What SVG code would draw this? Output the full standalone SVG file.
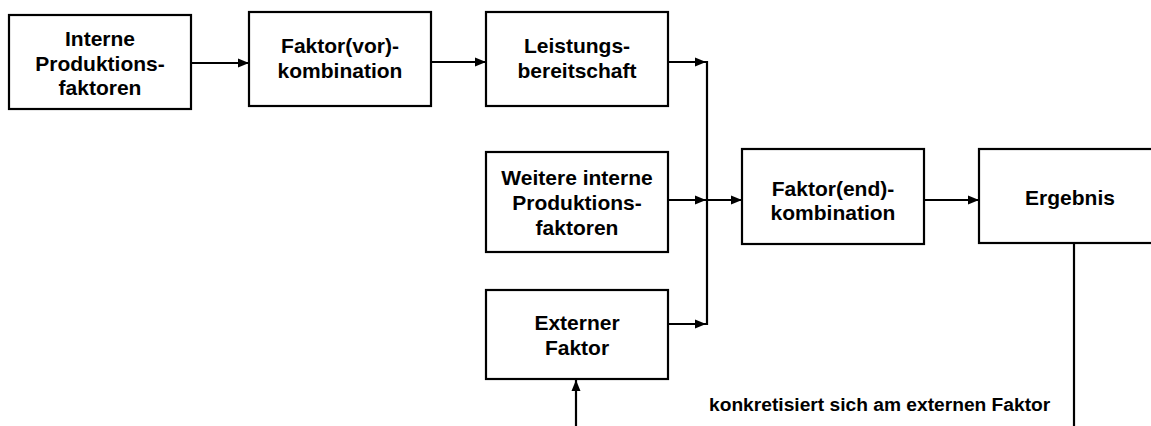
<svg xmlns="http://www.w3.org/2000/svg" width="1151" height="426" viewBox="0 0 1151 426">
  <style>
    .box { fill: #ffffff; stroke: #000000; stroke-width: 2.2; }
    .lbl { font-family: "Liberation Sans", Arial, sans-serif; font-weight: bold; font-size: 21px; fill: #000000; text-anchor: middle; }
    .note { font-family: "Liberation Sans", Arial, sans-serif; font-weight: bold; font-size: 19.2px; fill: #000000; }
    .wire { fill: none; stroke: #000000; stroke-width: 2.2; }
  </style>
  <defs>
    <marker id="arrow" markerUnits="userSpaceOnUse" markerWidth="12" markerHeight="10" refX="11" refY="5" orient="auto">
      <path d="M0,0.5 L11,5 L0,9.5 Z" fill="#000000"/>
    </marker>
  </defs>
  <rect width="1151" height="426" fill="#ffffff"/>

  <g id="connectors">
    <line class="wire" x1="191" y1="63" x2="249" y2="63" marker-end="url(#arrow)"/>
    <line class="wire" x1="431" y1="62" x2="486" y2="62" marker-end="url(#arrow)"/>
    <line class="wire" x1="668" y1="62" x2="706" y2="62" marker-end="url(#arrow)"/>
    <line class="wire" x1="668" y1="200" x2="706" y2="200" marker-end="url(#arrow)"/>
    <line class="wire" x1="668" y1="324" x2="706" y2="324" marker-end="url(#arrow)"/>
    <line class="wire" x1="707" y1="61" x2="707" y2="325"/>
    <line class="wire" x1="707" y1="200" x2="742" y2="200" marker-end="url(#arrow)"/>
    <line class="wire" x1="924" y1="200" x2="979" y2="200" marker-end="url(#arrow)"/>
    <line class="wire" x1="1074" y1="243" x2="1074" y2="426"/>
    <line class="wire" x1="576" y1="426" x2="576" y2="380" marker-end="url(#arrow)"/>
  </g>

  <g id="interne-produktionsfaktoren">
    <rect class="box" x="9" y="15" width="182" height="94"/>
    <text class="lbl" x="100" y="46">Interne</text>
    <text class="lbl" x="100" y="71">Produktions-</text>
    <text class="lbl" x="100" y="95">faktoren</text>
  </g>

  <g id="faktor-vor-kombination">
    <rect class="box" x="249" y="12" width="182" height="94"/>
    <text class="lbl" x="340" y="53">Faktor(vor)-</text>
    <text class="lbl" x="340" y="78">kombination</text>
  </g>

  <g id="leistungsbereitschaft">
    <rect class="box" x="486" y="12" width="182" height="94"/>
    <text class="lbl" x="577" y="53">Leistungs-</text>
    <text class="lbl" x="577" y="78">bereitschaft</text>
  </g>

  <g id="weitere-interne-produktionsfaktoren">
    <rect class="box" x="486" y="152" width="182" height="100"/>
    <text class="lbl" x="577" y="185">Weitere interne</text>
    <text class="lbl" x="577" y="210">Produktions-</text>
    <text class="lbl" x="577" y="235">faktoren</text>
  </g>

  <g id="externer-faktor">
    <rect class="box" x="486" y="290" width="182" height="89"/>
    <text class="lbl" x="577" y="330">Externer</text>
    <text class="lbl" x="577" y="355">Faktor</text>
  </g>

  <g id="faktor-end-kombination">
    <rect class="box" x="742" y="149" width="182" height="95"/>
    <text class="lbl" x="833" y="196">Faktor(end)-</text>
    <text class="lbl" x="833" y="220">kombination</text>
  </g>

  <g id="ergebnis">
    <rect class="box" x="979" y="149" width="182" height="94"/>
    <text class="lbl" x="1070" y="205">Ergebnis</text>
  </g>

  <g id="hinweis">
    <text class="note" x="709" y="411">konkretisiert sich am externen Faktor</text>
  </g>
</svg>
